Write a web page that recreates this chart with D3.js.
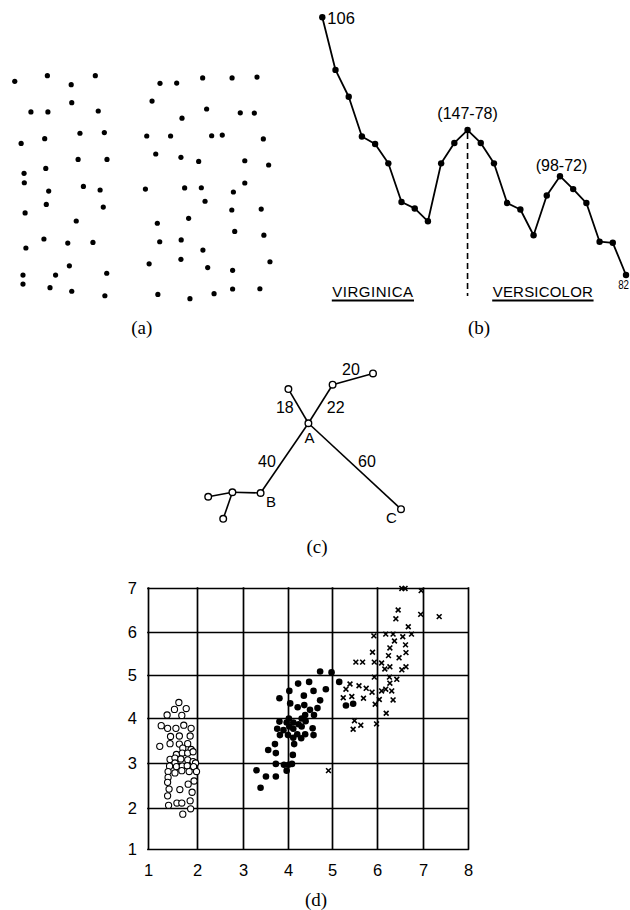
<!DOCTYPE html>
<html><head><meta charset="utf-8">
<script src="https://cdn.jsdelivr.net/npm/d3@7"></script>
<style>body{margin:0;background:#fff}svg{display:block}</style>
</head><body>
<svg id="fig" width="630" height="910"></svg>
<script>
// ---------- DATA ----------
// (a) two random point fields (units 0-100)
const fieldLeft = [[1.8,97.2],[14.1,99.7],[23.1,95.7],[32.2,99.7],[23.3,87.7],[7.9,83.6],[14.3,83.6],[33.3,84.0],[26.4,74.1],[35.6,74.4],[4.2,69.6],[13.1,71.7],[25.7,62.5],[36.6,62.5],[13.5,58.5],[5.3,56.3],[5.4,52.1],[27.7,50.5],[14.6,48.4],[34.0,48.9],[13.7,42.5],[35.2,41.3],[5.7,38.7],[25.0,35.1],[12.8,27.1],[21.8,25.3],[31.3,25.6],[6.0,23.1],[22.4,15.2],[4.9,11.1],[17.2,11.1],[36.5,11.9],[4.9,7.1],[15.1,5.5],[23.3,3.9],[35.8,1.9]];
const fieldRight = [[56.6,96.3],[62.9,96.4],[72.7,98.7],[83.8,98.7],[93.2,99.1],[53.6,88.4],[74.2,84.9],[86.9,83.2],[92.2,83.1],[64.9,80.8],[51.6,72.9],[60.6,72.9],[76.1,73.0],[80.1,73.3],[95.6,71.6],[55.0,64.9],[64.5,63.4],[71.2,61.6],[88.6,61.9],[97.6,60.0],[51.1,49.3],[65.9,49.8],[72.2,49.9],[88.6,52.0],[84.3,48.0],[73.6,43.9],[83.7,40.0],[94.8,40.4],[67.4,36.3],[55.6,34.1],[84.8,30.5],[95.8,28.8],[56.5,25.9],[64.6,26.7],[72.8,22.2],[52.5,16.1],[64.5,18.1],[98.1,17.0],[74.6,14.4],[84.0,13.2],[55.8,2.5],[67.9,0.6],[77.0,2.8],[84.0,4.9],[94.3,5.0]];

// (b) MST path edge lengths
const pathValues = [106,101.1,98.6,94.9,94.2,92.4,88.8,88.2,87.0,92.4,94.3,95.5,94.3,92.4,88.7,88.1,85.7,89.4,91.2,90.0,88.7,85.1,85.0,82];
const pathNotes = [{i:0,text:"106"},{i:11,text:"(147-78)"},{i:18,text:"(98-72)"},{i:23,text:"82"}];
const splitIndex = 11;
const classNames = ["VIRGINICA","VERSICOLOR"];

// (c) tree (units 0-100)
const treeNodes = [
  {id:"A",x:54.2,y:64.5,label:"A"},
  {id:"n18",x:44.2,y:87.3},
  {id:"n22",x:66.3,y:90.2},
  {id:"n20",x:86.5,y:97.7},
  {id:"B",x:30.3,y:18.0,label:"B"},
  {id:"bl",x:16.2,y:18.5},
  {id:"fl",x:4.1,y:15.5},
  {id:"lo",x:11.6,y:0.8},
  {id:"C",x:100.5,y:7.2,label:"C"}
];
const treeEdges = [
  {s:"A",t:"n18",w:"18"},{s:"A",t:"n22",w:"22"},{s:"n22",t:"n20",w:"20"},
  {s:"A",t:"B",w:"40"},{s:"A",t:"C",w:"60"},
  {s:"B",t:"bl"},{s:"bl",t:"fl"},{s:"bl",t:"lo"}
];

// (d) scatter
const xTicks = [1,2,3,4,5,6,7,8];
const yTicks = [1,2,3,4,5,6,7];
const setosa = [[1.63,4.36],[1.54,4.20],[1.78,4.22],[1.39,4.07],[1.69,4.06],[1.27,3.83],[1.40,3.77],[1.57,3.77],[1.73,3.84],[1.88,3.77],[1.46,3.59],[1.64,3.60],[1.86,3.60],[1.24,3.37],[1.45,3.43],[1.64,3.42],[1.81,3.43],[1.71,3.33],[1.88,3.30],[1.58,3.19],[1.70,3.22],[1.81,3.22],[1.92,3.25],[1.45,3.08],[1.55,3.11],[1.67,3.09],[1.81,3.07],[1.92,3.03],[1.97,3.00],[1.55,3.00],[1.44,2.93],[1.58,2.92],[1.70,2.93],[1.80,2.94],[1.93,2.92],[1.69,2.83],[1.55,2.78],[1.41,2.81],[1.84,2.81],[1.99,2.81],[1.41,2.68],[1.40,2.57],[1.94,2.60],[1.82,2.53],[1.43,2.42],[1.65,2.41],[1.90,2.35],[1.40,2.27],[1.86,2.16],[1.42,2.06],[1.59,2.11],[1.69,2.11],[1.87,1.98],[1.71,1.85]];
const versicolor = [[4.73,5.08],[4.99,5.06],[5.16,4.84],[4.23,4.80],[4.48,4.84],[4.03,4.63],[4.58,4.63],[4.86,4.67],[4.36,4.52],[3.81,4.46],[4.73,4.41],[4.05,4.34],[4.22,4.25],[4.37,4.30],[4.67,4.23],[4.50,4.19],[4.39,4.07],[4.59,4.07],[4.02,3.99],[4.31,3.99],[3.81,3.92],[3.97,3.90],[4.12,3.90],[4.24,3.86],[4.40,3.93],[4.03,3.81],[4.31,3.81],[3.76,3.76],[4.12,3.76],[4.56,3.77],[3.90,3.73],[4.21,3.64],[4.39,3.64],[3.82,3.62],[4.00,3.62],[4.58,3.62],[4.12,3.56],[4.30,3.55],[3.71,3.42],[4.14,3.42],[3.56,3.29],[3.73,3.22],[4.11,3.18],[3.73,2.98],[3.91,2.96],[4.01,2.96],[4.09,2.98],[3.97,2.83],[3.30,2.84],[3.51,2.70],[3.73,2.70],[3.39,2.45],[5.31,4.29],[5.47,4.33]];
const virginica = [[6.54,6.99],[6.61,6.99],[6.96,6.94],[6.46,6.50],[6.41,6.30],[6.95,6.40],[7.36,6.35],[6.68,6.12],[5.93,5.91],[6.19,5.95],[6.35,5.95],[6.56,5.89],[6.75,5.95],[6.38,5.79],[6.62,5.70],[6.28,5.63],[5.90,5.53],[6.63,5.52],[6.25,5.45],[6.48,5.40],[5.53,5.30],[5.68,5.30],[5.94,5.30],[6.10,5.28],[6.28,5.19],[6.17,5.14],[6.63,5.19],[6.54,5.12],[5.94,4.95],[6.27,4.95],[6.43,4.90],[6.28,4.81],[5.40,4.79],[5.60,4.75],[5.76,4.69],[5.89,4.60],[5.31,4.67],[6.10,4.63],[6.19,4.67],[6.32,4.63],[6.05,4.43],[5.25,4.47],[5.44,4.50],[5.70,4.46],[6.35,4.42],[5.96,4.32],[6.20,4.11],[5.50,3.94],[5.47,3.75],[5.64,3.84],[5.99,3.87],[4.92,2.83]];

const panelLabels = ["(a)","(b)","(c)","(d)"];

// ---------- DRAW ----------
const svg = d3.select("#fig");
svg.append("rect").attr("width",630).attr("height",910).attr("fill","#fff");
const SANS = "'Liberation Sans', Arial, sans-serif";
const SERIF = "'Liberation Serif', 'Times New Roman', serif";

// (a)
const xA = d3.scaleLinear().domain([0,100]).range([10,275]);
const yA = d3.scaleLinear().domain([0,100]).range([300,75]);
const gA = svg.append("g");
gA.selectAll("circle").data(fieldLeft.concat(fieldRight)).join("circle")
  .attr("cx",d=>xA(d[0])).attr("cy",d=>yA(d[1])).attr("r",2.6).attr("fill","#000");

// (b)
const xB = d3.scaleLinear().domain([0,pathValues.length-1]).range([322.3,626]);
const yB = d3.scaleLinear().domain([82,106]).range([275,17.3]);
const gB = svg.append("g");
gB.append("path").datum(pathValues)
  .attr("d", d3.line().x((d,i)=>xB(i)).y(d=>yB(d)))
  .attr("fill","none").attr("stroke","#000").attr("stroke-width",1.8).attr("stroke-linejoin","round");
gB.selectAll("circle").data(pathValues).join("circle")
  .attr("cx",(d,i)=>xB(i)).attr("cy",d=>yB(d)).attr("r",3.2).attr("fill","#000");
gB.append("line")
  .attr("x1",xB(splitIndex)).attr("x2",xB(splitIndex))
  .attr("y1",yB(pathValues[splitIndex])+3).attr("y2",296)
  .attr("stroke","#000").attr("stroke-width",1.6).attr("stroke-dasharray","6,4");
const noteStyle = {
  0:{dx:5,dy:6.5,anchor:"start",size:16.5},
  11:{dx:0,dy:-11,anchor:"middle",size:16},
  18:{dx:1.5,dy:-5,anchor:"middle",size:16},
  23:{dx:3,dy:14,anchor:"end",size:12.5}
};
pathNotes.forEach(n=>{
  const s = noteStyle[n.i];
  const t = gB.append("text").attr("x",xB(n.i)+s.dx).attr("y",yB(pathValues[n.i])+s.dy)
    .attr("text-anchor",s.anchor).attr("font-family",SANS).attr("font-size",s.size).text(n.text);
  if(n.i===23) t.attr("transform",`translate(${xB(n.i)+s.dx},0) scale(0.78,1) translate(${-(xB(n.i)+s.dx)},0)`);
});
const classPos = [{x:332.3},{x:492.7}];
classNames.forEach((c,k)=>{
  const t = gB.append("text").attr("x",classPos[k].x).attr("y",296.5)
    .attr("font-family",SANS).attr("font-size",15).attr("letter-spacing",k===0?0.5:0.2).text(c);
  const w = t.node().getComputedTextLength();
  gB.append("line").attr("x1",classPos[k].x-0.5).attr("x2",classPos[k].x+w+0.5)
    .attr("y1",300.6).attr("y2",300.6).attr("stroke","#000").attr("stroke-width",2);
});

// (c)
const xC = d3.scaleLinear().domain([0,100]).range([200,400]);
const yC = d3.scaleLinear().domain([0,100]).range([520,370]);
const byId = Object.fromEntries(treeNodes.map(n=>[n.id,n]));
const gC = svg.append("g");
gC.selectAll("line").data(treeEdges).join("line")
  .attr("x1",d=>xC(byId[d.s].x)).attr("y1",d=>yC(byId[d.s].y))
  .attr("x2",d=>xC(byId[d.t].x)).attr("y2",d=>yC(byId[d.t].y))
  .attr("stroke","#000").attr("stroke-width",1.6);
gC.selectAll("circle").data(treeNodes).join("circle")
  .attr("cx",d=>xC(d.x)).attr("cy",d=>yC(d.y)).attr("r",3.3)
  .attr("fill","#fff").attr("stroke","#000").attr("stroke-width",1.4);
const edgeLabelOff = {"18":[-13.6,1.3],"22":[15.2,3.3],"20":[-1.8,-10.2],"40":[-17.5,3],"60":[12.3,-5.3]};
treeEdges.filter(e=>e.w).forEach(e=>{
  const a=byId[e.s], b=byId[e.t];
  const mx=(xC(a.x)+xC(b.x))/2, my=(yC(a.y)+yC(b.y))/2;
  const o=edgeLabelOff[e.w];
  gC.append("text").attr("x",mx+o[0]).attr("y",my+o[1]).attr("dy","0.36em")
    .attr("text-anchor","middle").attr("font-family",SANS).attr("font-size",16).text(e.w);
});
const nodeLabelOff = {A:[1.2,14.2],B:[10.3,8.3],C:[-9.7,8.2]};
treeNodes.filter(n=>n.label).forEach(n=>{
  const o=nodeLabelOff[n.label];
  gC.append("text").attr("x",xC(n.x)+o[0]).attr("y",yC(n.y)+o[1]).attr("dy","0.36em")
    .attr("text-anchor","middle").attr("font-family",SANS).attr("font-size",15).text(n.label);
});

// (d)
const xD = d3.scaleLinear().domain(xTicks).range([148,197,243,288,332,377,423,468]);
const yD = d3.scaleLinear().domain(yTicks).range([849,808,763,718,675,632,588]);
const gD = svg.append("g");
const ax = gD.append("g").attr("transform",`translate(0,${yD(1)})`)
  .call(d3.axisBottom(xD).tickValues(xTicks).tickSize(-(yD(1)-yD(7))).tickPadding(15).tickFormat(d3.format("d")));
const ay = gD.append("g").attr("transform",`translate(${xD(1)},0)`)
  .call(d3.axisLeft(yD).tickValues(yTicks).tickSize(-(xD(8)-xD(1))).tickPadding(11).tickFormat(d3.format("d")));
[ax,ay].forEach(a=>{
  a.select(".domain").remove();
  a.selectAll(".tick line").attr("stroke","#000").attr("stroke-width",1.7).attr("stroke-linecap","square");
  a.selectAll(".tick text").attr("fill","#000").attr("font-family",SANS).attr("font-size",16.5);
});
gD.append("g").selectAll("circle").data(setosa).join("circle")
  .attr("cx",d=>xD(d[0])).attr("cy",d=>yD(d[1])).attr("r",3.1)
  .attr("fill","#fff").attr("stroke","#000").attr("stroke-width",1.1);
gD.append("g").selectAll("circle").data(versicolor).join("circle")
  .attr("cx",d=>xD(d[0])).attr("cy",d=>yD(d[1])).attr("r",3.3).attr("fill","#000");
const h=2.4;
gD.append("g").selectAll("path").data(virginica).join("path")
  .attr("d",d=>{const x=xD(d[0]),y=yD(d[1]);return `M${x-h},${y-h}L${x+h},${y+h}M${x-h},${y+h}L${x+h},${y-h}`;})
  .attr("stroke","#000").attr("stroke-width",1.6).attr("fill","none");

// panel labels
const labelPos = [[141.7,328],[479,328],[317,547],[316,900]];
panelLabels.forEach((l,i)=>{
  svg.append("text").attr("x",labelPos[i][0]).attr("y",labelPos[i][1]).attr("dy","0.32em")
    .attr("text-anchor","middle").attr("font-family",SERIF).attr("font-size",19).text(l);
});
</script>
</body></html>
